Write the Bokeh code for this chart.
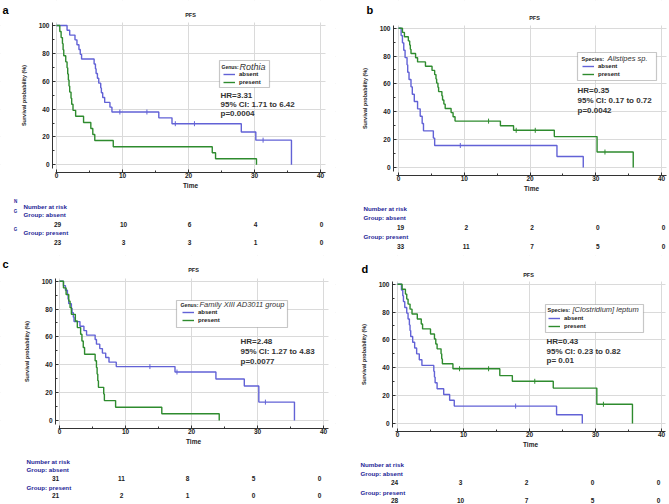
import numpy as np
from bokeh.plotting import figure
from bokeh.models import Range1d, FixedTicker, Legend, LegendItem, Label, BoxAnnotation
from bokeh.layouts import row, column
from bokeh.embed import file_html
from bokeh.resources import INLINE

# ---------------- data ----------------
risk_times = [0, 10, 20, 30, 40]
x_ticks = [0, 10, 20, 30, 40]
x_minor = [5, 15, 25, 35]
y_ticks = [0, 20, 40, 60, 80, 100]
y_minor = [10, 30, 50, 70, 90]

# Panel a : Genus Rothia
a_abs_t = [0, 1.6, 2.0, 2.8, 3.1, 3.4, 3.6, 3.8, 5.7, 5.9, 6.0, 6.2, 6.4, 6.7, 6.8, 7.0, 7.3, 8.1, 8.4, 15.5, 17.5, 28.0, 30.2, 35.6]
a_abs_s = [100, 96.6, 93.1, 89.7, 86.2, 82.8, 79.3, 75.9, 72.4, 69.0, 65.5, 62.1, 58.6, 55.2, 51.7, 48.3, 44.8, 41.4, 37.9, 33.7, 29.5, 23.6, 17.7, 0]
a_abs_c = [9.6, 13.7, 18.0, 20.9, 31.3]
a_pres_t = [0, 0.5, 0.7, 0.9, 1.0, 1.1, 1.4, 1.6, 1.7, 1.8, 1.9, 2.0, 2.2, 2.3, 2.5, 2.9, 4.1, 5.2, 5.5, 5.8, 8.6, 23.6, 24.1, 30.3]
a_pres_s = [100, 95.7, 91.3, 87.0, 82.6, 78.3, 73.9, 69.6, 65.2, 60.9, 56.5, 52.2, 47.8, 43.5, 39.1, 34.8, 30.4, 26.1, 21.7, 17.4, 13.0, 8.7, 4.3, 0]
a_pres_c = []
a_risk_abs = [29, 10, 6, 4, 0]
a_risk_pres = [23, 3, 3, 1, 0]

# Panel b : Species Alistipes sp.
b_abs_t = [0, 0.4, 0.6, 0.8, 1.0, 1.3, 1.4, 1.6, 1.9, 2.1, 2.4, 2.9, 3.3, 3.6, 3.8, 5.3, 5.5, 24.1, 28.1]
b_abs_s = [100, 94.7, 89.5, 84.2, 78.9, 73.7, 68.4, 63.2, 57.9, 52.6, 47.4, 42.1, 36.8, 31.6, 26.3, 21.1, 15.8, 7.9, 0]
b_abs_c = [9.4]
b_pres_t = [0, 0.6, 0.9, 1.5, 1.7, 1.8, 1.9, 2.6, 2.9, 4.1, 5.1, 5.5, 5.7, 5.8, 6.0, 6.1, 6.6, 6.7, 6.9, 7.1, 8.0, 8.3, 8.6, 15.5, 17.5, 23.7, 30.2, 35.7]
b_pres_s = [100, 97.0, 93.9, 90.9, 87.9, 84.8, 81.8, 78.8, 75.8, 72.7, 69.7, 66.7, 63.6, 60.6, 57.6, 54.5, 51.5, 48.5, 45.5, 42.4, 39.4, 36.4, 33.3, 30.0, 26.7, 22.2, 11.1, 0]
b_pres_c = [13.7, 17.9, 20.8, 31.4]
b_risk_abs = [19, 2, 2, 0, 0]
b_risk_pres = [33, 11, 7, 5, 0]

# Panel c : Genus Family XIII AD3011 group
c_abs_t = [0, 0.6, 0.9, 1.2, 1.3, 1.4, 1.8, 1.9, 2.1, 2.2, 3.1, 3.7, 4.1, 5.4, 5.6, 6.1, 6.5, 7.0, 7.5, 8.6, 17.5, 23.7, 28.0, 30.2, 35.6]
c_abs_s = [100, 96.8, 93.5, 90.3, 87.1, 83.9, 80.6, 77.4, 74.2, 71.0, 67.7, 64.5, 61.3, 58.1, 54.8, 51.6, 48.4, 45.2, 41.9, 38.7, 34.8, 29.8, 24.8, 13.2, 0]
c_abs_c = [13.7, 17.8, 31.2]
c_pres_t = [0, 0.6, 1.0, 1.4, 1.6, 1.8, 2.4, 2.7, 3.2, 3.4, 3.6, 3.8, 5.4, 5.6, 5.7, 5.8, 5.9, 6.7, 6.8, 8.5, 15.5, 24.2]
c_pres_s = [100, 95.2, 90.5, 85.7, 81.0, 76.2, 71.4, 66.7, 61.9, 57.1, 52.4, 47.6, 42.9, 38.1, 33.3, 28.6, 23.8, 19.0, 14.3, 9.5, 4.8, 0]
c_pres_c = []
c_risk_abs = [31, 11, 8, 5, 0]
c_risk_pres = [21, 2, 1, 0, 0]

# Panel d : Species [Clostridium] leptum
d_abs_t = [0, 0.6, 0.8, 0.9, 1.1, 1.4, 1.6, 1.8, 1.9, 2.0, 2.3, 2.6, 2.9, 3.3, 3.7, 5.5, 5.6, 5.7, 6.0, 7.0, 7.9, 8.6, 24.1, 28.0]
d_abs_s = [100, 95.8, 91.7, 87.5, 83.3, 79.2, 75.0, 70.8, 66.7, 62.5, 58.3, 54.2, 50.0, 45.8, 41.7, 37.5, 33.3, 29.2, 25.0, 20.8, 16.7, 12.5, 6.25, 0]
d_abs_c = [17.9]
d_pres_t = [0, 0.7, 1.2, 1.4, 1.6, 1.9, 2.2, 3.0, 3.6, 3.8, 5.0, 5.6, 5.8, 6.0, 6.6, 6.7, 6.8, 8.4, 15.5, 17.4, 23.6, 30.2, 35.6]
d_pres_s = [100, 96.4, 92.9, 89.3, 85.7, 82.1, 78.6, 75.0, 71.4, 67.9, 64.3, 60.7, 57.1, 53.6, 50.0, 46.4, 42.9, 39.3, 34.4, 30.3, 25.4, 13.8, 0]
d_pres_c = [9.4, 13.8, 20.8, 31.2]
d_risk_abs = [24, 3, 2, 0, 0]
d_risk_pres = [28, 10, 7, 5, 0]

# ---------------- styling ----------------
FONT = "Liberation Sans"
BLUE = "#6262d6"
GREEN = "#2e8b2e"
TXT = "#222222"
RISKBLUE = "#1e1e96"


def surv_at(t_arr, s_arr, t):
    i = int(np.searchsorted(np.asarray(t_arr), t, side="right")) - 1
    return s_arr[i]


def make_quadrant(g, spec):
    W, H, ox, oy = g["w"], g["h"], g["ox"], g["oy"]
    sx, sy, X0, Y0 = g["sx"], g["sy"], g["X0"], g["Y0"]

    def dx(px):
        return (px - X0) / sx

    def dy(py):
        return (Y0 - py) / sy

    p = figure(width=W, height=H, title=None,
               x_range=Range1d(dx(ox), dx(ox + W)), y_range=Range1d(dy(oy + H), dy(oy)),
               output_backend="svg", toolbar_location=None,
               min_border=0, min_border_left=0, min_border_right=0, min_border_top=0, min_border_bottom=0)
    p.outline_line_color = None

    pl, pr, pt, pb = g["plot_box"]

    # axes drawn at the plot-area edges
    p.xaxis.ticker = FixedTicker(ticks=x_ticks, minor_ticks=x_minor)
    p.yaxis.ticker = FixedTicker(ticks=y_ticks, minor_ticks=y_minor)
    p.xaxis.fixed_location = dy(pb)
    p.yaxis.fixed_location = dx(pl)
    p.xaxis.bounds = (dx(pl + 3), dx(pr))
    p.yaxis.bounds = (dy(pb - 4), dy(pt))
    for ax in (p.xaxis, p.yaxis):
        ax.axis_line_color = "#333333"
        ax.major_tick_line_color = "#333333"
        ax.minor_tick_line_color = "#333333"
        ax.major_tick_in = 3
        ax.major_tick_out = 0
        ax.minor_tick_in = 2
        ax.minor_tick_out = 0
        ax.major_label_text_font = FONT
        ax.major_label_text_font_size = "6.5px"
        ax.major_label_text_font_style = "bold"
        ax.major_label_text_color = TXT
        ax.axis_label_text_font = FONT
        ax.axis_label_text_font_style = "bold"
        ax.axis_label_text_color = TXT
    p.xaxis.axis_label = "Time"
    p.xaxis.axis_label_text_font_size = "6.5px"
    p.yaxis.axis_label = "Survival probability (%)"
    p.yaxis.axis_label_text_font_size = "5.5px"
    p.xaxis.major_label_standoff = 0
    p.yaxis.major_label_standoff = 3
    p.xaxis.axis_label_standoff = 1
    p.yaxis.axis_label_standoff = 9
    p.xgrid.grid_line_color = "#dadada"
    p.ygrid.grid_line_color = "#dadada"

    # mask grid lines outside the plot area
    for kw in (dict(top=dy(pb)), dict(bottom=dy(pt)), dict(right=dx(pl)), dict(left=dx(pr))):
        p.add_layout(BoxAnnotation(**kw, fill_color="white", fill_alpha=1, line_color=None, level="underlay"))

    r_abs = p.step(spec["abs_t"], spec["abs_s"], mode="after", line_color=BLUE, line_width=1.4)
    r_pres = p.step(spec["pres_t"], spec["pres_s"], mode="after", line_color=GREEN, line_width=1.4)
    for ct, tt, ss, col in ((spec["abs_c"], spec["abs_t"], spec["abs_s"], BLUE),
                            (spec["pres_c"], spec["pres_t"], spec["pres_s"], GREEN)):
        if ct:
            cy = [surv_at(tt, ss, t) for t in ct]
            p.scatter(ct, cy, marker="dash", angle=np.pi / 2, size=5, line_color=col, line_width=1)

    def lab(px, py, text, size, color=TXT, style="bold", align="left", baseline="middle", xdata=None, xoff=0):
        p.add_layout(Label(x=dx(px) if xdata is None else xdata, y=dy(py), x_offset=xoff, text=text,
                           text_font=FONT, text_font_size=f"{size}px", text_font_style=style,
                           text_color=color, text_align=align, text_baseline=baseline))

    # legend
    bx = spec["box"]
    p.add_layout(BoxAnnotation(left=dx(bx[0]), right=dx(bx[2]), top=dy(bx[1]), bottom=dy(bx[3]),
                               fill_color="white", fill_alpha=1, line_color="#444444", line_width=1.2))
    gx, gy_bottom = spec["legloc"]
    leg = Legend(items=[LegendItem(label="absent", renderers=[r_abs]),
                        LegendItem(label="present", renderers=[r_pres])],
                 location=(gx - ox, oy + H - gy_bottom), orientation="vertical",
                 padding=0, spacing=0, margin=0,
                 border_line_color=None, background_fill_alpha=0,
                 glyph_width=12, glyph_height=8, label_height=8, label_width=10, label_standoff=4,
                 label_text_font=FONT, label_text_font_size="6px", label_text_font_style="bold",
                 label_text_color=TXT)
    p.add_layout(leg)
    tx, ty, tsz = spec["title_pos"]
    lab(tx, ty, spec["title_kind"], tsz)
    nx, ny = spec["name_pos"]
    lab(nx, ny, spec["name"], spec["name_size"], color="#333333", style="italic")
    hx, hys = spec["hr_pos"]
    for txt, hy in zip(spec["hr"], hys):
        lab(hx, hy, txt, 8, color="#333333")

    # panel letter and title
    lx, ly = spec["letter_pos"]
    lab(lx, ly, spec["letter"], 11, color="black", baseline="alphabetic")
    qx, qy = spec["pfs_pos"]
    lab(qx, qy, "PFS", 5.5, align="center")

    # number at risk table
    rx, rys = spec["risk_pos"]
    lab(rx, rys[0], "Number at risk", 6.2, color=RISKBLUE)
    lab(rx, rys[1], "Group: absent", 6.2, color=RISKBLUE)
    lab(rx, rys[3], "Group: present", 6.2, color=RISKBLUE)
    for t, n in zip(risk_times, spec["risk_abs"]):
        lab(0, rys[2], str(n), 6.5, align="center", xdata=t, xoff=spec["risk_off"])
    for t, n in zip(risk_times, spec["risk_pres"]):
        lab(0, rys[4], str(n), 6.5, align="center", xdata=t, xoff=spec["risk_off"])
    for (zx, zy, t) in spec.get("stray", []):
        lab(zx, zy, t, 4.5, color=RISKBLUE, align="center")
    return p


# quadrant geometry (pixels): origin, size, x=0 / y=0 pixel, px per unit, plot-area box
GA = dict(ox=0, oy=0, w=335, h=255, X0=56, sx=6.6, Y0=164.3, sy=1.393, plot_box=(52, 325, 22, 172))
GB = dict(ox=335, oy=0, w=334, h=255, X0=398, sx=6.575, Y0=167, sy=1.393, plot_box=(393, 666, 25, 175))
GC = dict(ox=0, oy=255, w=335, h=249, X0=59, sx=6.6, Y0=420, sy=1.393, plot_box=(55, 328, 278, 428))
GD = dict(ox=335, oy=255, w=334, h=249, X0=397, sx=6.6, Y0=423, sy=1.393, plot_box=(392, 665, 281, 431))

SA = dict(abs_t=a_abs_t, abs_s=a_abs_s, abs_c=a_abs_c, pres_t=a_pres_t, pres_s=a_pres_s, pres_c=a_pres_c,
          box=(219, 60, 269, 87), legloc=(223, 86), title_kind="Genus:", title_pos=(221, 66, 5),
          name="Rothia", name_pos=(239, 66), name_size=9,
          hr=["HR=3.31", "95% CI:  1.71 to 6.42", "p=0.0004"], hr_pos=(220, [95, 104, 113]),
          letter="a", letter_pos=(2, 9), pfs_pos=(190, 14),
          risk_pos=(23, [206, 214, 224, 232, 242]), risk_abs=a_risk_abs, risk_pres=a_risk_pres, risk_off=1,
          stray=[(15, 201, "N"), (15, 211, "G"), (15, 229, "G")])
SB = dict(abs_t=b_abs_t, abs_s=b_abs_s, abs_c=b_abs_c, pres_t=b_pres_t, pres_s=b_pres_s, pres_c=b_pres_c,
          box=(577, 52, 656, 80), legloc=(582, 78), title_kind="Species:", title_pos=(581, 58, 5.5),
          name="Alistipes sp.", name_pos=(607, 58), name_size=7.5,
          hr=["HR=0.35", "95% CI: 0.17 to 0.72", "p=0.0042"], hr_pos=(577, [90, 100, 110]),
          letter="b", letter_pos=(366, 9), pfs_pos=(534, 17),
          risk_pos=(363, [208, 217, 227, 236, 246]), risk_abs=b_risk_abs, risk_pres=b_risk_pres, risk_off=2)
SC = dict(abs_t=c_abs_t, abs_s=c_abs_s, abs_c=c_abs_c, pres_t=c_pres_t, pres_s=c_pres_s, pres_c=c_pres_c,
          box=(176, 300, 287, 327), legloc=(182, 324), title_kind="Genus:", title_pos=(180, 304, 5.2),
          name="Family XIII AD3011 group", name_pos=(199, 304), name_size=7.5,
          hr=["HR=2.48", "95% CI: 1.27 to 4.83", "p=0.0077"], hr_pos=(240, [341, 351, 361]),
          letter="c", letter_pos=(2, 263), pfs_pos=(193, 269),
          risk_pos=(26, [461, 469, 478, 487, 495]), risk_abs=c_risk_abs, risk_pres=c_risk_pres, risk_off=-4)
SD = dict(abs_t=d_abs_t, abs_s=d_abs_s, abs_c=d_abs_c, pres_t=d_pres_t, pres_s=d_pres_s, pres_c=d_pres_c,
          box=(545, 304, 643, 332), legloc=(548, 330), title_kind="Species:", title_pos=(547, 309, 5.5),
          name="[Clostridium] leptum", name_pos=(572, 309), name_size=7.5,
          hr=["HR=0.43", "95% CI: 0.23 to 0.82", "p= 0.01"], hr_pos=(546, [341, 351, 360]),
          letter="d", letter_pos=(361, 268), pfs_pos=(528, 274),
          risk_pos=(360, [464, 473, 482, 492, 500]), risk_abs=d_risk_abs, risk_pres=d_risk_pres, risk_off=-3)

pa = make_quadrant(GA, SA)
pb = make_quadrant(GB, SB)
pc = make_quadrant(GC, SC)
pd = make_quadrant(GD, SD)

layout = column(row(pa, pb), row(pc, pd))
open("out.html", "w").write(file_html(layout, INLINE))
